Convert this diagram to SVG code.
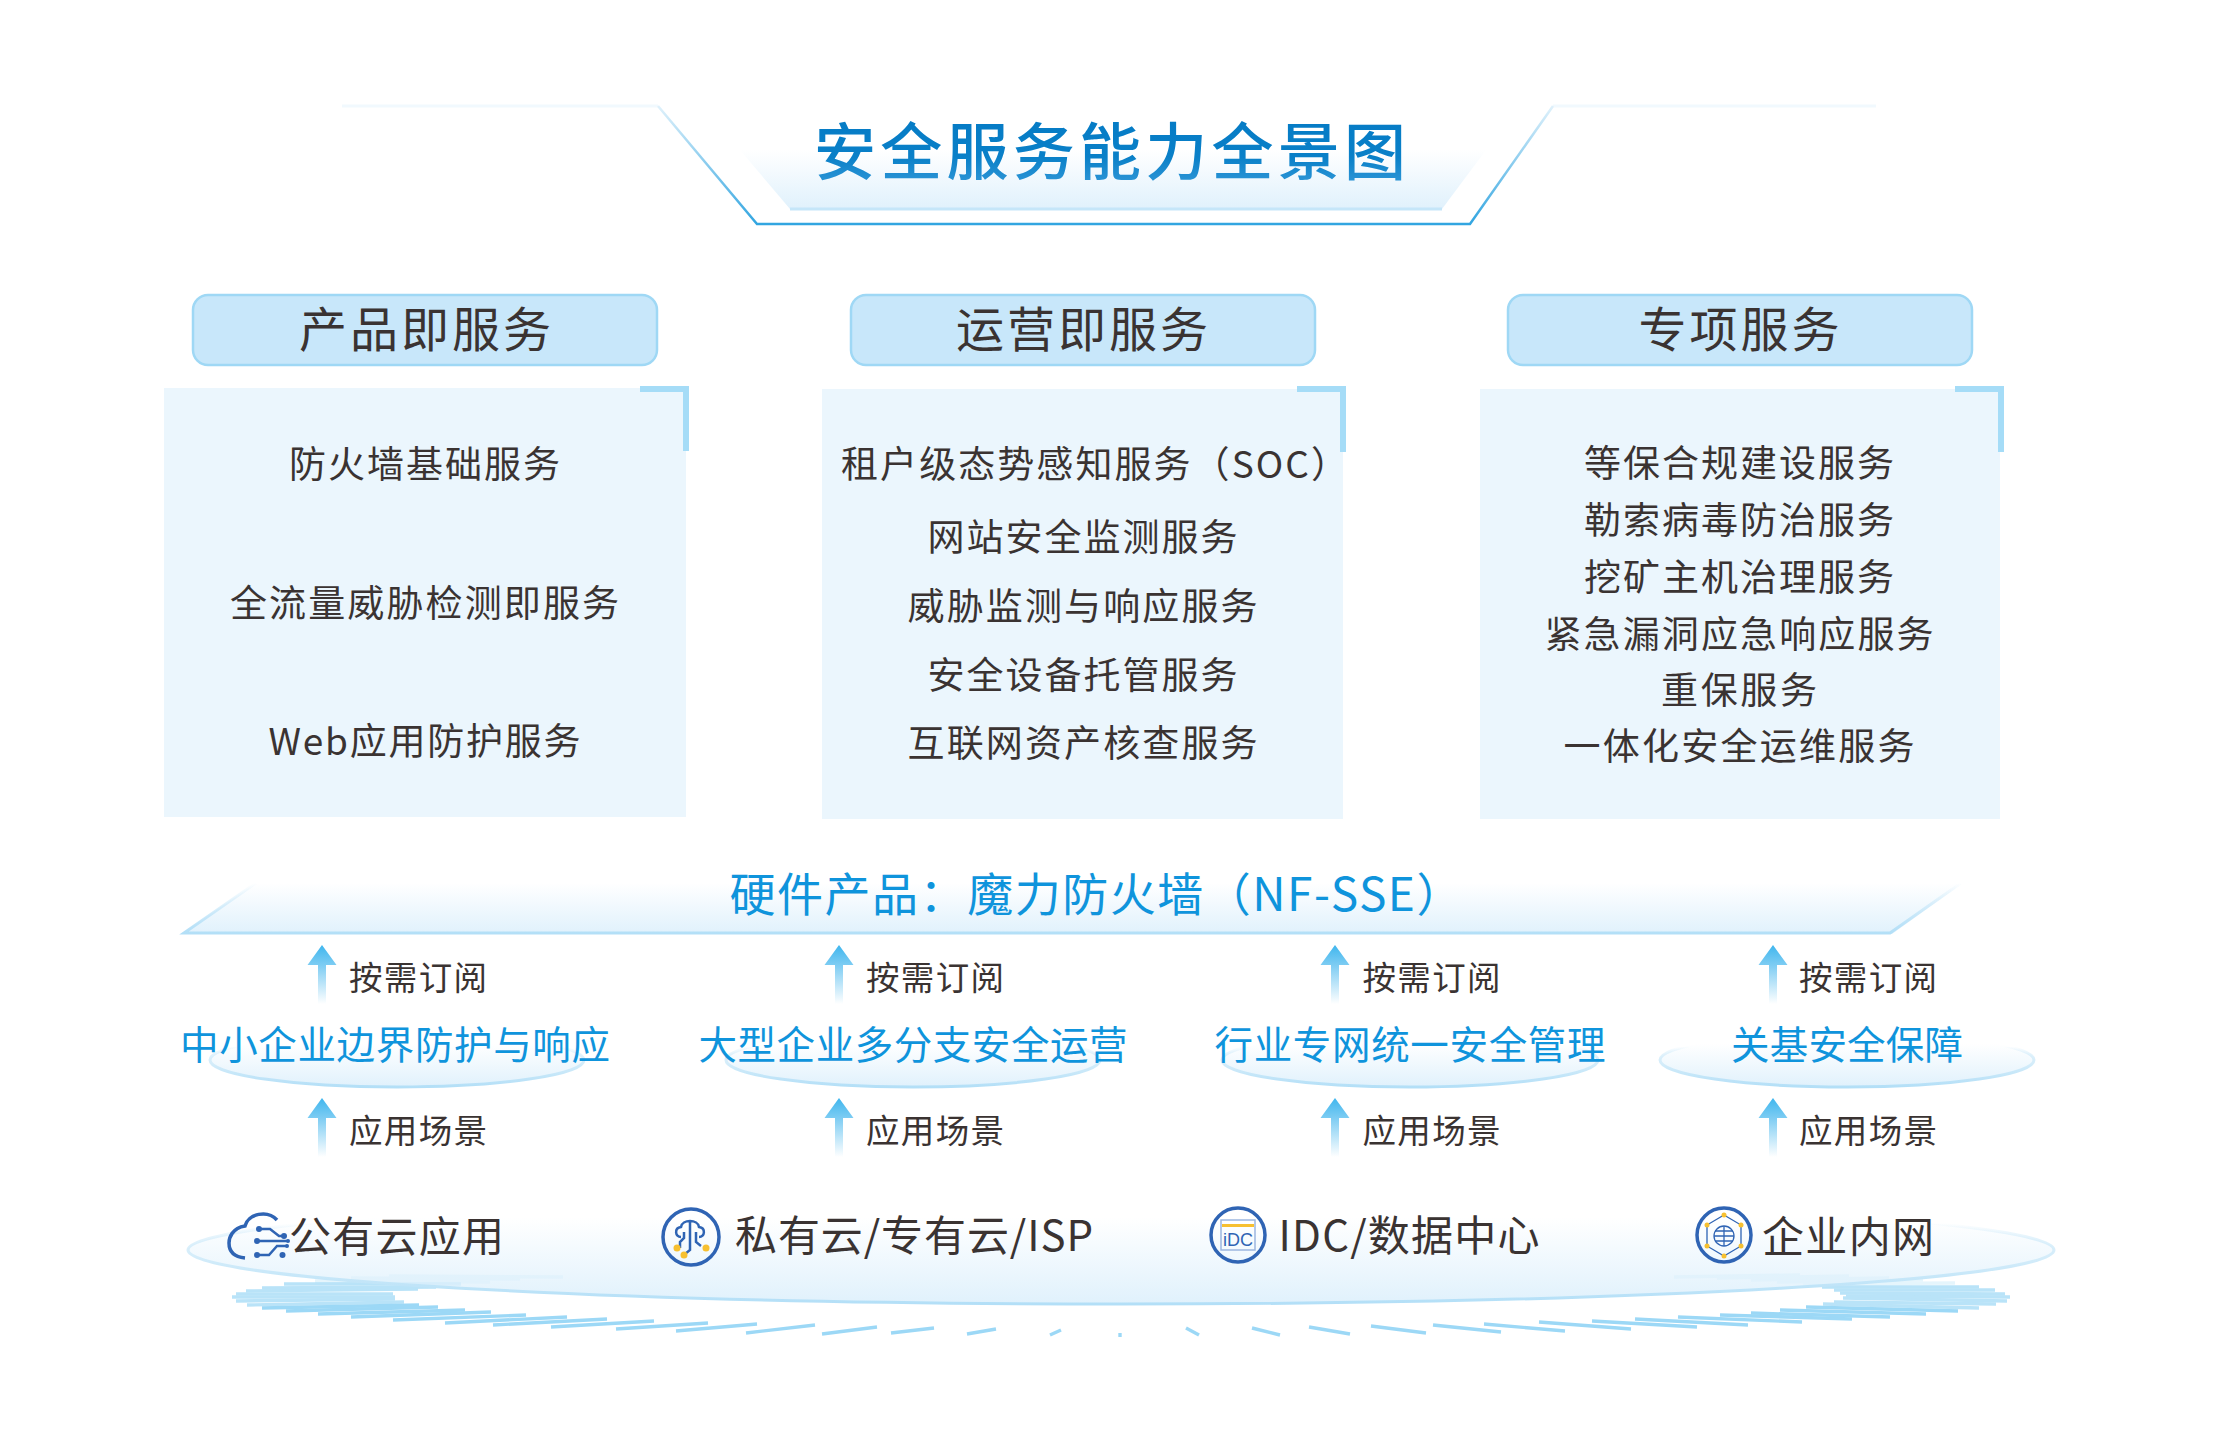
<svg xmlns="http://www.w3.org/2000/svg" xmlns:xlink="http://www.w3.org/1999/xlink" width="2218" height="1441" viewBox="0 0 2218 1441">
<style>
text{font-family:"Noto Sans CJK SC","Noto Sans",sans-serif;text-anchor:middle}
.title{font-size:62px;font-weight:500;fill:url(#titleFill)}
.head{font-size:48px;fill:#3a3332}
.item{font-size:37px;fill:#3a3332}
.hw{font-size:46px;fill:#0f94dc}
.scene{font-size:38.500px;fill:#0f94dc}
.tag{font-size:33.500px;fill:#3a3332}
.plat{font-size:42px;fill:#3a3332}
.hdbox{fill:#c8e7fa;stroke:#9fd8f5;stroke-width:2.500}
.panel{fill:#ebf6fd}
.corner{fill:none;stroke:#a5dcf7;stroke-width:6}
.el{fill:url(#fade);stroke:url(#fadeLine);stroke-width:3}
.ic{fill:none;stroke:#2f64b4;stroke-width:3.500}
.ic2{fill:none;stroke:#2f64b4;stroke-width:2.500}
.ic3{fill:none;stroke:#2f64b4;stroke-width:1.300}
.dot{fill:#2f64b4}
.y{fill:#f7c030}
.d line{stroke:#9cd8f6;stroke-width:3.400}
.e{opacity:.7}
.f{opacity:.25}
</style>
<defs>
<linearGradient id="titleFill" x1="0" y1="0" x2="0" y2="1"><stop offset="0" stop-color="#0379c4"/><stop offset=".6" stop-color="#0a80c8"/><stop offset="1" stop-color="#3a9ddb"/></linearGradient>
<linearGradient id="fade" x1="0" y1="0" x2="0" y2="1"><stop offset=".2" stop-color="#e0f1fc" stop-opacity="0"/><stop offset="1" stop-color="#e0f1fc"/></linearGradient>
<linearGradient id="fade2" x1="0" y1="0" x2="0" y2="1"><stop offset="0" stop-color="#e0f1fc" stop-opacity="0"/><stop offset="1" stop-color="#e0f1fc"/></linearGradient>
<linearGradient id="fadeLine" x1="0" y1="0" x2="0" y2="1"><stop offset=".25" stop-color="#b3dff7" stop-opacity="0"/><stop offset=".55" stop-color="#d5edfa"/><stop offset="1" stop-color="#b3dff7"/></linearGradient>
<linearGradient id="bandLine" gradientUnits="userSpaceOnUse" x1="0" y1="883" x2="0" y2="933"><stop offset="0" stop-color="#b3dff7" stop-opacity="0"/><stop offset="1" stop-color="#b3dff7"/></linearGradient>
<linearGradient id="outer" gradientUnits="userSpaceOnUse" x1="0" y1="106" x2="0" y2="226"><stop offset="0" stop-color="#dff1fb"/><stop offset="1" stop-color="#2fa4e0"/></linearGradient>
<linearGradient id="arrowF" x1="0" y1="0" x2="0" y2="1"><stop offset="0" stop-color="#3fb6ee"/><stop offset=".35" stop-color="#7fcdf3"/><stop offset="1" stop-color="#ffffff"/></linearGradient>
<path id="arrow" d="M0,0L14.500,20L4,20L4,59L-4,59L-4,20L-14.500,20Z" fill="url(#arrowF)"/>
</defs>
<rect width="2218" height="1441" fill="#fff"/>

<g id="title-banner">
<path d="M342,106H658" fill="none" stroke="#f1f9fe" stroke-width="3"/>
<path d="M1553,106H1876" fill="none" stroke="#f1f9fe" stroke-width="3"/>
<path d="M740,150L790,209H1442L1486,150Z" fill="url(#fade2)"/>
<path d="M790,209H1442" stroke="#c5e6f9" stroke-width="3" fill="none"/>
<path d="M658,106L757,224H1470L1553,106" fill="none" stroke="url(#outer)" stroke-width="2.500"/>
<text class="title" x="1110" y="175" textLength="592">安全服务能力全景图</text>
</g>

<g id="col-product">
<rect class="hdbox" x="193" y="295" width="464" height="70" rx="15"/>
<text class="head" x="425" y="347" textLength="252">产品即服务</text>
<rect class="panel" x="164" y="388" width="522" height="429"/>
<path class="corner" d="M640,389H686V451"/>
<text class="item" x="424.500" y="477.500" textLength="271">防火墙基础服务</text>
<text class="item" x="424.500" y="616.500" textLength="389">全流量威胁检测即服务</text>
<text class="item" x="424.500" y="754.500" textLength="312">Web应用防护服务</text>
</g>

<g id="col-ops">
<rect class="hdbox" x="851" y="295" width="464" height="70" rx="15"/>
<text class="head" x="1082" y="347" textLength="252">运营即服务</text>
<rect class="panel" x="822" y="389" width="521" height="430"/>
<path class="corner" d="M1297,389H1343V452"/>
<text class="item" x="1094.500" y="478" textLength="507">租户级态势感知服务（SOC）</text>
<text class="item" x="1082.500" y="551" textLength="310">网站安全监测服务</text>
<text class="item" x="1082.500" y="620" textLength="350">威胁监测与响应服务</text>
<text class="item" x="1082.500" y="689" textLength="310">安全设备托管服务</text>
<text class="item" x="1082.500" y="757" textLength="350">互联网资产核查服务</text>
</g>

<g id="col-special">
<rect class="hdbox" x="1508" y="295" width="464" height="70" rx="15"/>
<text class="head" x="1739" y="347" textLength="201">专项服务</text>
<rect class="panel" x="1480" y="389" width="520" height="430"/>
<path class="corner" d="M1955,389H2001V452"/>
<text class="item" x="1739" y="477" textLength="310">等保合规建设服务</text>
<text class="item" x="1739" y="534" textLength="310">勒索病毒防治服务</text>
<text class="item" x="1739" y="591" textLength="310">挖矿主机治理服务</text>
<text class="item" x="1739" y="648" textLength="389">紧急漏洞应急响应服务</text>
<text class="item" x="1739" y="704" textLength="156">重保服务</text>
<text class="item" x="1739" y="760" textLength="351">一体化安全运维服务</text>
</g>

<g id="hardware">
<path d="M181,934L256,883H1963L1892,934Z" fill="url(#fade2)"/>
<path d="M256,883L184,933H1890L1961,883" fill="none" stroke="url(#bandLine)" stroke-width="3"/>
<text class="hw" x="1096" y="911" textLength="733">硬件产品：魔力防火墙（NF-SSE）</text>
</g>

<g id="scene-sme">
<ellipse class="el" cx="397" cy="1060" rx="187" ry="27"/>
<text class="scene" x="395" y="1059" textLength="430">中小企业边界防护与响应</text>
</g>
<g id="scene-large">
<ellipse class="el" cx="913" cy="1060" rx="187" ry="27"/>
<text class="scene" x="913" y="1059" textLength="429">大型企业多分支安全运营</text>
</g>
<g id="scene-industry">
<ellipse class="el" cx="1410" cy="1060" rx="188" ry="27"/>
<text class="scene" x="1410" y="1059" textLength="391">行业专网统一安全管理</text>
</g>
<g id="scene-infra">
<ellipse class="el" cx="1847" cy="1060" rx="187" ry="27"/>
<text class="scene" x="1847" y="1059" textLength="232">关基安全保障</text>
</g>

<g id="connectors">
<use xlink:href="#arrow" href="#arrow" x="322" y="945"/>
<use xlink:href="#arrow" href="#arrow" x="839" y="945"/>
<use xlink:href="#arrow" href="#arrow" x="1335" y="945"/>
<use xlink:href="#arrow" href="#arrow" x="1773" y="945"/>
<use xlink:href="#arrow" href="#arrow" x="322" y="1098"/>
<use xlink:href="#arrow" href="#arrow" x="839" y="1098"/>
<use xlink:href="#arrow" href="#arrow" x="1335" y="1098"/>
<use xlink:href="#arrow" href="#arrow" x="1773" y="1098"/>
</g>

<g id="tags">
<text class="tag" x="418" y="990" textLength="138">按需订阅</text>
<text class="tag" x="935" y="990" textLength="138">按需订阅</text>
<text class="tag" x="1431.500" y="990" textLength="138">按需订阅</text>
<text class="tag" x="1868" y="990" textLength="138">按需订阅</text>
<text class="tag" x="418" y="1143" textLength="138">应用场景</text>
<text class="tag" x="935" y="1143" textLength="138">应用场景</text>
<text class="tag" x="1431.500" y="1143" textLength="138">应用场景</text>
<text class="tag" x="1868" y="1143" textLength="138">应用场景</text>
</g>

<g id="ring" class="d">
<g>
<line x1="822" y1="1334" x2="877" y2="1327"/><line x1="891" y1="1333" x2="934" y2="1328"/><line x1="967" y1="1334" x2="996" y2="1329"/><line x1="1050" y1="1335" x2="1061" y2="1330"/><line x1="1120" y1="1333" x2="1120" y2="1337"/>
<line x1="1186" y1="1328" x2="1199" y2="1335"/><line x1="1252" y1="1328" x2="1280" y2="1335"/><line x1="1309" y1="1327" x2="1350" y2="1334"/><line x1="1371" y1="1326" x2="1426" y2="1333"/><line x1="1433" y1="1325" x2="1501" y2="1332"/><line x1="1484" y1="1324" x2="1565" y2="1331"/><line x1="1539" y1="1322" x2="1631" y2="1329"/><line x1="1592" y1="1321" x2="1697" y2="1327"/><line x1="1635" y1="1319" x2="1748" y2="1325"/><line x1="1678" y1="1317" x2="1802" y2="1322"/><line x1="1720" y1="1315" x2="1852" y2="1319"/><line x1="1751" y1="1313" x2="1890" y2="1317"/><line x1="1780" y1="1310" x2="1926" y2="1314"/><line x1="1806" y1="1307" x2="1958" y2="1311"/>
<line x1="746" y1="1333" x2="815" y2="1325"/><line x1="676" y1="1331" x2="757" y2="1324"/><line x1="616" y1="1329" x2="708" y2="1323"/><line x1="551" y1="1327" x2="654" y2="1321"/><line x1="493" y1="1325" x2="607" y2="1319"/><line x1="445" y1="1323" x2="567" y2="1317"/><line x1="393" y1="1320" x2="526" y2="1315"/><line x1="351" y1="1317" x2="491" y2="1312"/><line x1="318" y1="1314" x2="465" y2="1310"/><line x1="286" y1="1311" x2="438" y2="1307"/><line x1="262" y1="1308" x2="419" y2="1305"/>
</g>
<g class="e">
<line x1="1823" y1="1304" x2="1979" y2="1308"/><line x1="1834" y1="1302" x2="1996" y2="1304"/><line x1="1843" y1="1298" x2="2007" y2="1301"/><line x1="1846" y1="1296" x2="2010" y2="1297"/><line x1="1840" y1="1293" x2="2005" y2="1294"/><line x1="1834" y1="1290" x2="1995" y2="1290"/><line x1="1822" y1="1287" x2="1979" y2="1287"/>
<line x1="247" y1="1305" x2="404" y2="1302"/><line x1="236" y1="1301" x2="395" y2="1299"/><line x1="232" y1="1297" x2="395" y2="1297"/><line x1="236" y1="1294" x2="393" y2="1294"/><line x1="246" y1="1291" x2="418" y2="1289"/><line x1="262" y1="1288" x2="436" y2="1287"/><line x1="284" y1="1284" x2="461" y2="1284"/>
</g>
<g class="f">
<line x1="1803" y1="1284" x2="1955" y2="1283"/><line x1="1777" y1="1282" x2="1923" y2="1280"/><line x1="1751" y1="1280" x2="1889" y2="1278"/><line x1="1717" y1="1278" x2="1849" y2="1276"/><line x1="1674" y1="1277" x2="1800" y2="1275"/>
<line x1="315" y1="1281" x2="490" y2="1282"/><line x1="351" y1="1278" x2="520" y2="1279"/><line x1="389" y1="1276" x2="563" y2="1277"/>
</g>
</g>

<g id="platform">
<ellipse class="el" cx="1121" cy="1250" rx="933" ry="54"/>
</g>

<g id="env-public">
<path class="ic" d="M277,1220A18,15 0 0 0 245,1226C232,1228 229,1238 229,1243C229,1252 235,1257 245,1258"/>
<path class="ic2" d="M259,1229H270L279,1236H284M257,1241H288M257,1255H269L277,1246H287"/>
<circle class="dot" cx="259" cy="1229" r="3"/><circle class="dot" cx="284" cy="1236" r="3"/><circle class="dot" cx="257" cy="1241" r="3"/><circle class="dot" cx="288" cy="1241" r="2"/><circle class="dot" cx="257" cy="1255" r="3"/><circle class="dot" cx="287" cy="1246" r="2"/><circle class="dot" cx="282.500" cy="1255" r="3"/>
<text class="plat" x="396.500" y="1252" textLength="215">公有云应用</text>
</g>
<g id="env-private">
<circle class="ic" cx="691" cy="1237" r="28"/>
<path class="ic2" d="M681,1237C675,1237 674,1228 681,1227C682,1219 698,1219 699,1227C706,1228 705,1237 699,1237M690,1222V1250L685,1254M684,1232V1238L680,1242V1248M696,1232V1242L701,1246"/>
<circle class="y" cx="677" cy="1248" r="3.500"/><circle class="y" cx="684" cy="1255" r="3.500"/><circle class="y" cx="706" cy="1248" r="3.500"/>
<text class="plat" x="914" y="1251" textLength="358">私有云/专有云/ISP</text>
</g>
<g id="env-idc">
<circle class="ic" cx="1238" cy="1235" r="27"/>
<rect x="1221" y="1220" width="34" height="30" fill="none" stroke="#9cb6df" stroke-width="1.500"/>
<rect x="1222" y="1224" width="32" height="3" fill="#f7c030"/>
<text x="1238" y="1246" style="font-family:'Liberation Sans',sans-serif;font-size:18px;fill:#2f64b4">iDC</text>
<text class="plat" x="1409" y="1251" textLength="261">IDC/数据中心</text>
</g>
<g id="env-intranet">
<circle class="ic" cx="1724" cy="1235" r="27"/>
<path class="ic3" d="M1724,1215L1741,1225V1246L1724,1256L1707,1246V1225Z"/>
<circle class="ic3" cx="1724" cy="1236" r="10"/>
<path class="ic3" d="M1714,1236H1734M1724,1226V1246M1715,1231H1733M1715,1241H1733"/>
<circle class="y" cx="1724" cy="1215" r="2.500"/><circle class="y" cx="1741" cy="1225" r="2.500"/><circle class="y" cx="1741" cy="1246" r="2.500"/><circle class="y" cx="1724" cy="1256" r="2.500"/><circle class="y" cx="1707" cy="1246" r="2.500"/><circle class="y" cx="1707" cy="1225" r="2.500"/>
<text class="plat" x="1848" y="1252" textLength="172">企业内网</text>
</g>
</svg>
